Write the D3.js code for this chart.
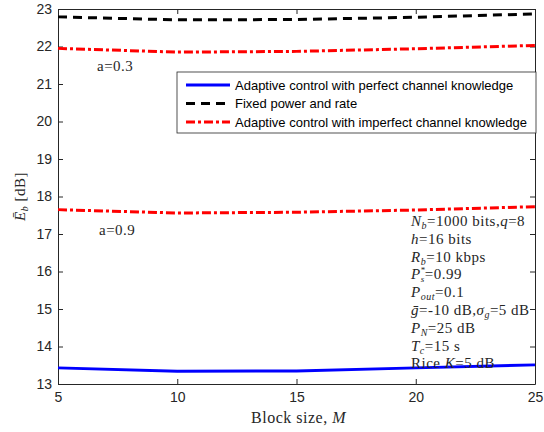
<!DOCTYPE html>
<html>
<head>
<meta charset="utf-8">
<script src="https://cdn.jsdelivr.net/npm/d3@7"></script>
<style>
  body { margin: 0; background: #fff; }
  .tick text { font-family: "Liberation Sans", Arial, sans-serif; font-size: 14px; fill: #262626; }
  .serif { font-family: "Liberation Serif", "Times New Roman", serif; fill: #262626; letter-spacing: 0.5px; }
</style>
</head>
<body>
<div class="chart"></div>
<script>
// block sizes and energy per bit values
var blockSize = [5, 10, 15, 20, 25];
var perfectCSI = [13.43, 13.34, 13.35, 13.43, 13.51];
var fixedRate = [22.79, 22.71, 22.72, 22.78, 22.87];
var imperfect03 = [21.95, 21.85, 21.87, 21.94, 22.03];
var imperfect09 = [17.65, 17.56, 17.58, 17.64, 17.73];
var xTicks = [5, 10, 15, 20, 25];
var yTicks = [13, 14, 15, 16, 17, 18, 19, 20, 21, 22, 23];
var legendLabels = [
  "Adaptive control with perfect channel knowledge",
  "Fixed power and rate",
  "Adaptive control with imperfect channel knowledge"
];

var svgWidth = 544, svgHeight = 432;
var margin = { top: 9, right: 9, bottom: 48, left: 58 };
var width = svgWidth - margin.left - margin.right;
var height = svgHeight - margin.top - margin.bottom;

var svg = d3.select(".chart").append("svg")
  .attr("width", svgWidth)
  .attr("height", svgHeight);

var g = svg.append("g")
  .attr("transform", `translate(${margin.left}, ${margin.top})`);

var x = d3.scaleLinear().domain([5, 25]).range([0, width]);
var y = d3.scaleLinear().domain([13, 23]).range([height, 0]);

// axes with inward ticks, mirrored on top and right
function styleAxis(sel) {
  sel.select(".domain").attr("stroke", "#262626");
  sel.selectAll(".tick line").attr("stroke", "#262626");
}
g.append("g").attr("transform", `translate(0, ${height})`)
  .call(d3.axisBottom(x).tickValues(xTicks).tickSizeInner(-5).tickSizeOuter(0).tickPadding(8))
  .call(styleAxis);
g.append("g")
  .call(d3.axisLeft(y).tickValues(yTicks).tickSizeInner(-5).tickSizeOuter(0).tickPadding(6))
  .call(styleAxis);
g.append("g")
  .call(d3.axisTop(x).tickValues(xTicks).tickSizeInner(-5).tickSizeOuter(0).tickFormat(""))
  .call(styleAxis);
g.append("g").attr("transform", `translate(${width}, 0)`)
  .call(d3.axisRight(y).tickValues(yTicks).tickSizeInner(-5).tickSizeOuter(0).tickFormat(""))
  .call(styleAxis);

// lines
var series = [
  { values: perfectCSI, color: "#0000ff", dash: null },
  { values: fixedRate, color: "#000000", dash: "9,6" },
  { values: imperfect03, color: "#ff0000", dash: "9,3,3,3" },
  { values: imperfect09, color: "#ff0000", dash: "9,3,3,3" }
];
var line = d3.line().x((d, i) => x(blockSize[i])).y(d => y(d));
g.selectAll(".series").data(series).enter().append("path")
  .attr("class", "series")
  .attr("d", d => line(d.values))
  .attr("fill", "none")
  .attr("stroke", d => d.color)
  .attr("stroke-width", 3)
  .attr("stroke-dasharray", d => d.dash);

// annotations
g.append("text").attr("class", "serif").attr("x", 39).attr("y", 62)
  .attr("font-size", 15).text("a=0.3");
g.append("text").attr("class", "serif").attr("x", 41).attr("y", 226)
  .attr("font-size", 15).text("a=0.9");

// legend
var legend = svg.append("g").attr("transform", "translate(177, 72)");
legend.append("rect").attr("width", 359).attr("height", 61)
  .attr("fill", "#fff").attr("stroke", "#262626").attr("stroke-width", 0.8);
var legendItems = legend.selectAll(".item").data(series.slice(0, 3)).enter().append("g")
  .attr("transform", (d, i) => `translate(0, ${13 + i * 18.5})`);
legendItems.append("line")
  .attr("x1", 9).attr("x2", 53)
  .attr("stroke", d => d.color).attr("stroke-width", 3)
  .attr("stroke-dasharray", d => d.dash);
legendItems.append("text")
  .attr("x", 58).attr("y", 4.5)
  .attr("font-family", "Liberation Sans, Arial, sans-serif").attr("font-size", 13)
  .attr("fill", "#000")
  .text((d, i) => legendLabels[i]);

// parameter text block
var params = svg.append("g").attr("transform", "translate(411, 226)");
var fs = 15, sub = 10;
function row(i) {
  return params.append("text").attr("class", "serif").attr("y", i * 17.8).attr("font-size", fs);
}
function it(t, s) { return t.append("tspan").attr("font-style", "italic").text(s); }
function subs(t, s) {
  t.append("tspan").attr("font-style", "italic").attr("font-size", sub).attr("dy", 3).text(s);
  return t.append("tspan").attr("dy", -3);
}

var t = row(0); it(t, "N"); subs(t, "b").text("=1000 bits,"); it(t, "q"); t.append("tspan").text("=8");
t = row(1); it(t, "h"); t.append("tspan").text("=16 bits");
t = row(2); it(t, "R"); subs(t, "b").text("=10 kbps");
// P_s^* : superscript and subscript stacked
t = row(3); it(t, "P");
t.append("tspan").attr("font-size", 9).attr("dy", -6).text("*");
t.append("tspan").attr("font-style", "italic").attr("font-size", 9).attr("dx", -5).attr("dy", 9).text("s");
t.append("tspan").attr("dy", -3).text("=0.99");
t = row(4); it(t, "P"); subs(t, "out").text("=0.1");
t = row(5); it(t, "g\u0304"); t.append("tspan").text("=-10 dB,"); it(t, "\u03c3"); subs(t, "g").text("=5 dB");
t = row(6); it(t, "P"); subs(t, "N").text("=25 dB");
t = row(7); it(t, "T"); subs(t, "c").text("=15 s");
t = row(8); t.append("tspan").text("Rice "); it(t, "K"); t.append("tspan").text("=5 dB");

// axis labels
svg.append("text").attr("class", "serif")
  .attr("x", margin.left + width / 2 + 2).attr("y", 423)
  .attr("text-anchor", "middle").attr("font-size", 16)
  .html('Block size, <tspan font-style="italic">M</tspan>');

var yl = svg.append("text").attr("class", "serif")
  .attr("transform", `translate(25, ${margin.top + height / 2}) rotate(-90)`)
  .attr("text-anchor", "middle").attr("font-size", 15);
yl.append("tspan").attr("font-style", "italic").text("\u0112");
yl.append("tspan").attr("font-style", "italic").attr("font-size", 10).attr("dy", 3).text("b");
yl.append("tspan").attr("dy", -3).text(" [dB]");
</script>
</body>
</html>
